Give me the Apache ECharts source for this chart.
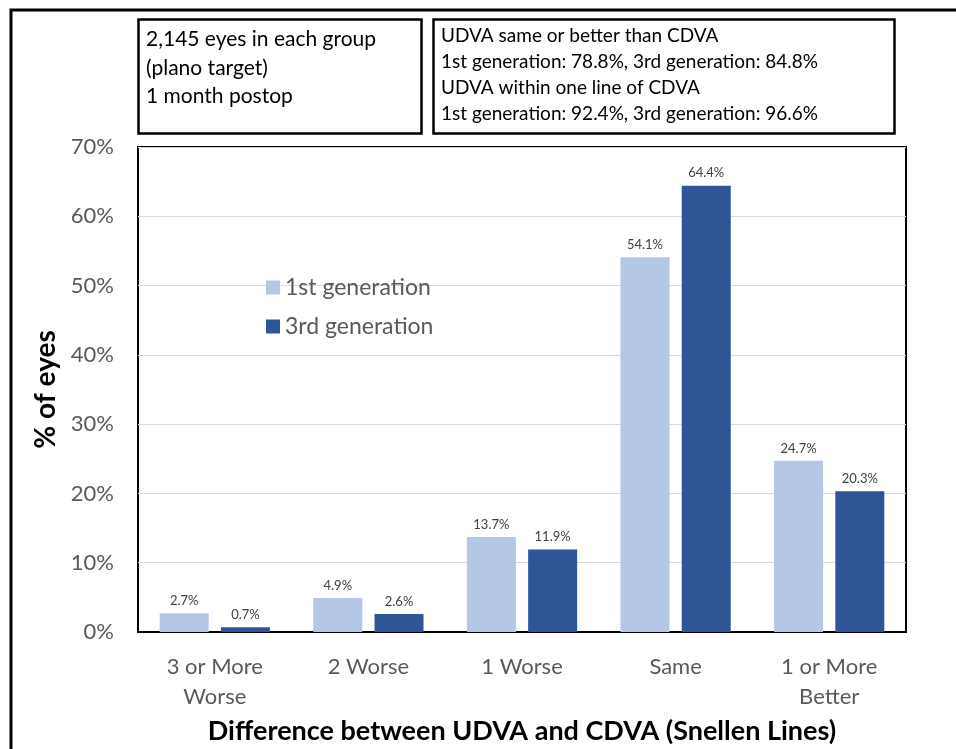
<!DOCTYPE html>
<html>
<head>
<meta charset="utf-8">
<script src="https://cdn.jsdelivr.net/npm/echarts@6/dist/echarts.min.js"></script>
<style>html,body{margin:0;padding:0;background:#fff}#c{width:956px;height:749px}</style>
</head>
<body>
<div id="c"></div>
<script>
var categories = ['3 or More\nWorse', '2 Worse', '1 Worse', 'Same', '1 or More\nBetter'];
var gen1 = [2.7, 4.9, 13.7, 54.1, 24.7];
var gen3 = [0.7, 2.6, 11.9, 64.4, 20.3];
var seriesNames = ['1st generation', '3rd generation'];
var yTicks = [0, 10, 20, 30, 40, 50, 60, 70];
var boxLeft = ['2,145 eyes in each group', '(plano target)', '1 month postop'];
var boxRight = ['UDVA same or better than CDVA', '1st generation: 78.8%, 3rd generation: 84.8%', 'UDVA within one line of CDVA', '1st generation: 92.4%, 3rd generation: 96.6%'];

var FONT = 'Lato, "Open Sans", sans-serif';
var chart = echarts.init(document.getElementById('c'));
var labelOpt = {show: true, position: 'top', distance: 6, color: '#404040', fontSize: 13, fontFamily: FONT,
  formatter: function (p) { return p.value.toFixed(1) + '%'; }};
chart.setOption({
  animation: false,
  grid: {left: 138, right: 50, top: 147, bottom: 117, show: true, borderColor: '#000', borderWidth: 2,
    outerBoundsMode: 'none', containLabel: false},
  legend: {
    orient: 'vertical', left: 261, top: 271, itemWidth: 14, itemHeight: 14, itemGap: 16,
    icon: 'rect',
    textStyle: {fontSize: 23, color: '#595959', fontFamily: FONT},
    data: seriesNames
  },
  xAxis: {
    type: 'category', data: categories,
    axisLine: {show: true, lineStyle: {color: '#000', width: 1}},
    axisTick: {show: false},
    axisLabel: {fontSize: 22, color: '#595959', fontFamily: FONT, margin: 20, lineHeight: 30, interval: 0},
    name: 'Difference between UDVA and CDVA (Snellen Lines)',
    nameLocation: 'middle', nameGap: 86,
    nameTextStyle: {fontSize: 27, fontWeight: 'bold', color: '#000', fontFamily: FONT}
  },
  yAxis: {
    type: 'value', min: 0, max: 70, interval: 10,
    axisLabel: {fontSize: 22, color: '#595959', fontFamily: FONT, margin: 24,
      formatter: function (v) { return yTicks.indexOf(v) >= 0 ? v + '%' : ''; }},
    splitLine: {lineStyle: {color: '#D9D9D9', width: 1}},
    axisLine: {show: false}, axisTick: {show: false},
    name: '% of eyes', nameLocation: 'middle', nameGap: 78, nameRotate: 90,
    nameTextStyle: {fontSize: 28, fontWeight: 'bold', color: '#000', fontFamily: FONT}
  },
  series: [
    {name: seriesNames[0], type: 'bar', data: gen1, barWidth: 49, barGap: '25%',
      itemStyle: {color: '#B4C7E7'}, label: labelOpt},
    {name: seriesNames[1], type: 'bar', data: gen3, barWidth: 49,
      itemStyle: {color: '#2F5597'}, label: labelOpt}
  ],
  graphic: [
    {type: 'rect', shape: {x: 11, y: 10, width: 980, height: 800}, style: {fill: 'none', stroke: '#000', lineWidth: 3}, silent: true},
    {type: 'rect', shape: {x: 138.5, y: 19.5, width: 283, height: 114}, style: {fill: '#fff', stroke: '#000', lineWidth: 2.5}},
    {type: 'text', left: 146, top: 25, style: {text: boxLeft.join('\n'), fontSize: 21, lineHeight: 28.5, fill: '#000', fontFamily: FONT}},
    {type: 'rect', shape: {x: 433.5, y: 19.5, width: 461, height: 114}, style: {fill: '#fff', stroke: '#000', lineWidth: 2.5}},
    {type: 'text', left: 441, top: 23, style: {text: boxRight.join('\n'), fontSize: 19, lineHeight: 26, fill: '#000', fontFamily: FONT}}
  ]
});
</script>
</body>
</html>
